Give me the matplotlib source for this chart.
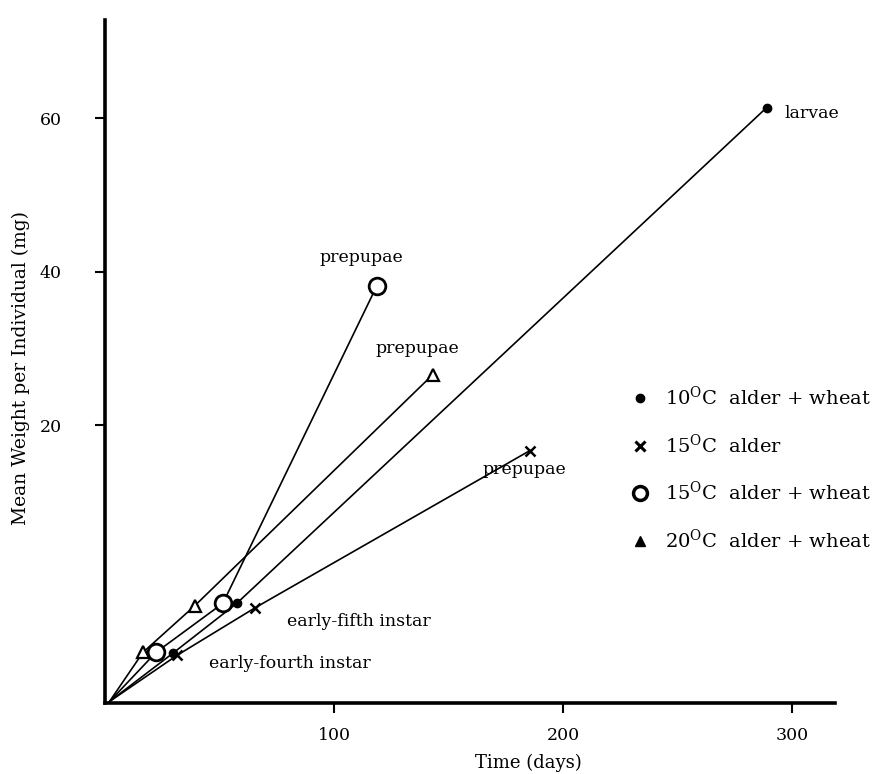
import matplotlib
matplotlib.use("Agg")
import matplotlib.pyplot as plt
from matplotlib.lines import Line2D

# Croissance pondérale par individu (jours, mg) pour chaque condition
jours_10_aw = [2, 29.7, 57.6, 289]
poids_10_aw = [-16, -9.7, -3.2, 61.4]

jours_15_a = [2, 31.4, 65.5, 185.6]
poids_15_a = [-16, -10.0, -3.8, 16.7]

jours_15_aw = [2, 22.3, 51.5, 118.8]
poids_15_aw = [-16, -9.6, -3.2, 38.2]

jours_20_aw = [2, 16.6, 39.3, 143.2]
poids_20_aw = [-16, -9.6, -3.5, 26.6]

x_ticks = [100, 200, 300]
y_ticks = [20, 40, 60]

plt.rcParams['font.family'] = ['DejaVu Serif']
plt.rcParams['mathtext.fontset'] = 'dejavuserif'

fig = plt.figure(figsize=(8.91, 7.74), dpi=100)
ax = fig.add_axes([0.1178, 0.0917, 0.8193, 0.8824])

lw = 1.2
ax.plot(jours_10_aw, poids_10_aw, '-', color='black', lw=lw)
ax.plot(jours_10_aw[1:], poids_10_aw[1:], 'o', color='black', ms=6)

ax.plot(jours_15_a, poids_15_a, '-', color='black', lw=lw)
ax.plot(jours_15_a[1:], poids_15_a[1:], 'x', color='black', ms=7, mew=1.8)

ax.plot(jours_15_aw, poids_15_aw, '-', color='black', lw=lw)
ax.plot(jours_15_aw[1:], poids_15_aw[1:], 'o', mfc='white', mec='black',
        ms=12, mew=2)

ax.plot(jours_20_aw, poids_20_aw, '-', color='black', lw=lw)
ax.plot(jours_20_aw[1:], poids_20_aw[1:], '^', mfc='white', mec='black',
        ms=9, mew=1.6)

# Annotations des stades
fs = 12.5
ax.annotate('larvae', xy=(jours_10_aw[-1], poids_10_aw[-1]), xytext=(13, -4),
            textcoords='offset points', ha='left', va='center', fontsize=fs)
ax.annotate('prepupae', xy=(jours_15_aw[-1], poids_15_aw[-1]), xytext=(-11, 20),
            textcoords='offset points', ha='center', va='center', fontsize=fs)
ax.annotate('prepupae', xy=(jours_20_aw[-1], poids_20_aw[-1]), xytext=(-11, 19),
            textcoords='offset points', ha='center', va='center', fontsize=fs)
ax.annotate('prepupae', xy=(jours_15_a[-1], poids_15_a[-1]), xytext=(-4, -14),
            textcoords='offset points', ha='center', va='center', fontsize=fs)
ax.annotate('early-fifth instar', xy=(jours_15_a[2], poids_15_a[2]),
            xytext=(23, -10), textcoords='offset points', ha='left',
            va='center', fontsize=fs)
ax.annotate('early-fourth instar', xy=(jours_15_a[1], poids_15_a[1]),
            xytext=(23, -6), textcoords='offset points', ha='left',
            va='center', fontsize=fs)

# Axes
ax.set_xlim(0, 318.8)
ax.set_ylim(-16.2, 72.8)
ax.set_xticks(x_ticks)
ax.set_yticks(y_ticks)
ax.tick_params(axis='both', labelsize=12.5, width=1.5, length=7, direction='out')
ax.tick_params(axis='x', pad=10)
ax.tick_params(axis='y', pad=24)
for s in ['top', 'right']:
    ax.spines[s].set_visible(False)
for s in ['left', 'bottom']:
    ax.spines[s].set_linewidth(2.6)
ax.set_xlabel('Time (days)', fontsize=13)
ax.xaxis.set_label_coords(0.58, -0.075)
ax.set_ylabel('Mean Weight per Individual (mg)', fontsize=13.5)
ax.yaxis.set_label_coords(-0.103, 0.49)

# Légende
handles = [
    Line2D([], [], ls='none', marker='o', color='black', ms=6),
    Line2D([], [], ls='none', marker='x', color='black', ms=7, mew=2.2),
    Line2D([], [], ls='none', marker='o', mfc='white', mec='black', ms=10, mew=2.5),
    Line2D([], [], ls='none', marker='^', color='black', ms=7),
]
labels = [r'10$^{\mathrm{O}}$C  alder + wheat',
          r'15$^{\mathrm{O}}$C  alder',
          r'15$^{\mathrm{O}}$C  alder + wheat',
          r'20$^{\mathrm{O}}$C  alder + wheat']
ax.legend(handles, labels, loc='upper left', bbox_to_anchor=(0.695, 0.49),
          frameon=False, fontsize=14, labelspacing=1.25, handlelength=1,
          handletextpad=0.8)

fig.savefig('out.png', dpi=100)
